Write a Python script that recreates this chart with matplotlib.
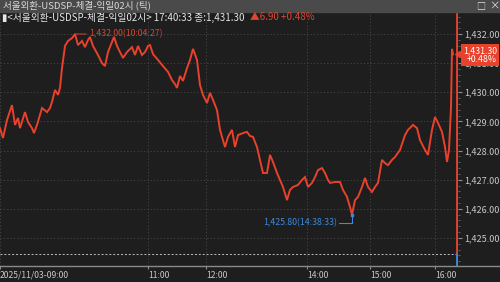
import numpy as np
import matplotlib
matplotlib.use('Agg')
import matplotlib.pyplot as plt
from matplotlib.patches import Rectangle
from matplotlib.lines import Line2D
from matplotlib.ticker import MultipleLocator, FuncFormatter
import matplotlib.transforms as mtransforms

plt.rcParams['font.family'] = ['Noto Sans CJK KR', 'DejaVu Sans']

# tick sequence (position on the tick chart) and traded price
tick_seq = [0, 3, 7, 12, 15, 18, 20, 25, 28, 32,
            34, 37, 42, 47, 50, 52, 55, 58, 60, 62,
            65, 68, 72, 75, 78, 82, 85, 88, 90, 93,
            98, 102, 105, 108, 112, 114, 117, 120, 123, 127,
            132, 135, 138, 142, 145, 148, 150, 153, 158, 163,
            168, 172, 175, 177, 180, 183, 187, 190, 193, 197,
            200, 203, 207, 210, 213, 217, 220, 225, 228, 232,
            235, 238, 243, 247, 250, 253, 257, 260, 263, 267,
            270, 273, 277, 280, 283, 287, 290, 293, 298, 302,
            305, 308, 312, 315, 318, 322, 325, 328, 330, 335,
            340, 343, 347, 350, 352, 355, 358, 362, 365, 368,
            372, 375, 378, 382, 385, 388, 392, 395, 400, 405,
            408, 413, 417, 420, 425, 428, 432, 435, 438, 442,
            445, 447, 449, 451, 452, 453]
price = [1428.77, 1428.43, 1429.05, 1429.56, 1428.88, 1429.12, 1428.77, 1429.32, 1428.98, 1428.77,
         1428.60, 1428.88, 1429.46, 1429.32, 1429.46, 1429.67, 1430.08, 1429.91, 1430.15, 1430.83,
         1431.59, 1431.76, 1431.86, 1432.00, 1431.62, 1431.76, 1431.55, 1431.79, 1431.90, 1431.59,
         1431.28, 1431.00, 1430.90, 1431.38, 1431.73, 1431.90, 1431.59, 1431.38, 1431.18, 1431.38,
         1431.55, 1431.28, 1431.59, 1431.28, 1431.38, 1431.59, 1431.62, 1431.31, 1431.11, 1430.90,
         1430.70, 1430.42, 1430.28, 1430.15, 1430.56, 1430.39, 1430.83, 1431.11, 1431.49, 1431.11,
         1430.25, 1429.91, 1429.63, 1429.98, 1429.74, 1429.39, 1428.71, 1428.12, 1428.47, 1428.71,
         1428.12, 1428.53, 1428.60, 1428.64, 1428.50, 1428.47, 1428.12, 1427.68, 1427.23, 1427.23,
         1427.85, 1427.61, 1427.23, 1426.99, 1426.75, 1426.30, 1426.65, 1426.75, 1426.82, 1426.99,
         1427.09, 1426.75, 1426.89, 1427.09, 1427.33, 1427.40, 1427.23, 1426.99, 1426.89, 1426.92,
         1426.92, 1426.65, 1426.41, 1426.06, 1425.80, 1426.30, 1426.41, 1426.75, 1427.06, 1426.75,
         1426.58, 1426.75, 1426.89, 1427.68, 1427.57, 1427.50, 1427.68, 1427.78, 1428.02, 1428.53,
         1428.71, 1428.88, 1428.77, 1428.36, 1428.02, 1427.85, 1428.71, 1429.15, 1428.95, 1428.64,
         1428.12, 1427.61, 1428.02, 1429.49, 1431.49, 1431.30]

time_pos = [0, 148, 206, 307, 370, 435]
time_labels = ['2025/11/03-09:00', '11:00', '12:00', '14:00', '15:00', '16:00']
price_ticks = [1425, 1426, 1427, 1428, 1429, 1430, 1431, 1432]

title = '서울외환-USDSP-체결-익일02시 (틱)'
header = '▮<서울외환-USDSP-체결-익일02시> 17:40:33 종:1,431.30'
change = '▲6.90 +0.48%'
max_time = '10:04:27'
min_time = '14:38:33'
last_change = '+0.48%'

BG = '#1e1e1e'
RED = '#e8412c'
BLUE = '#3a8be0'
TXT = '#c8c8c8'

W, H = 500, 282
fig = plt.figure(figsize=(W / 100, H / 100), dpi=100, facecolor=BG)

# title bar
fig.patches.append(Rectangle((0, 1 - 12 / H), 1, 12 / H, transform=fig.transFigure,
                             color='#4a4a4a', zorder=0))
fig.text(3 / W, 1 - 5.5 / H, title, color='#d8d8d8', fontsize=6.9, va='center')
fig.text(481 / W, 1 - 5.5 / H, '□', color='#e0e0e0', fontsize=6.5, va='center', ha='center')
fig.text(494 / W, 1 - 5.5 / H, '×', color='#e0e0e0', fontsize=7.5, va='center', ha='center')

ax = fig.add_axes([0, 16 / H, 458 / W, 253 / H])
ax.set_facecolor(BG)
ax.set_xlim(0, 458)
ax.set_ylim(1432 - 232 / 29.14, 1432 + 21 / 29.14)
for s in ax.spines.values():
    s.set_visible(False)

ax.plot(tick_seq, price, color=RED, lw=1.4, zorder=3, solid_joinstyle='miter')

ax.grid(True, color='#484848', linestyle=(0, (1.5, 2.5)), linewidth=0.6)

ax.yaxis.tick_right()
ax.set_yticks(price_ticks)
ax.yaxis.set_major_formatter(FuncFormatter(lambda v, p: '{:,.2f}'.format(v)))
ax.yaxis.set_minor_locator(MultipleLocator(0.2))
ax.tick_params(axis='y', which='major', colors='#8c8c8c', labelcolor=TXT,
               labelsize=6.5, length=3, pad=1.5)
ax.tick_params(axis='y', which='minor', colors='#6c6c6c', length=1.5)

ax.set_xticks(time_pos, time_labels)
for lab in ax.get_xticklabels():
    lab.set_ha('left')
ax.tick_params(axis='x', colors='#8c8c8c', labelcolor=TXT, labelsize=6.2,
               length=2, pad=1.5)

# x axis base line across the whole window
fig.add_artist(Line2D([0, 1], [16 / H, 16 / H], color='#8a8a8a', lw=1))

# volume separator + current cursor
ax.plot([0, 0.995], [0.047, 0.047], transform=ax.transAxes, color='#bdbdbd',
        lw=0.7, linestyle=(0, (2, 2)), zorder=2)
ax.axvline(457, ymin=0.047, ymax=1, color=RED, lw=2, zorder=4)
ax.axvline(457, ymin=0, ymax=0.047, color=BLUE, lw=2, zorder=4)

# high / low annotations
i_max = int(np.argmax(price))
i_min = int(np.argmin(price))
ax.annotate('{:,.2f}({})'.format(price[i_max], max_time),
            xy=(tick_seq[i_max], price[i_max]), xytext=(10, 0), textcoords='offset points',
            color='#d8452f', fontsize=6.3, va='center', ha='left',
            arrowprops=dict(arrowstyle='-', color='#d8452f', lw=0.7,
                            shrinkA=0, shrinkB=0))
ax.plot(tick_seq[i_min], price[i_min], marker='s', ms=2, color=BLUE, zorder=5)
ax.annotate('{:,.2f}({})'.format(price[i_min], min_time),
            xy=(tick_seq[i_min], price[i_min]), xytext=(-11, -6), textcoords='offset points',
            color=BLUE, fontsize=6.3, va='center', ha='right',
            arrowprops=dict(arrowstyle='-', color=BLUE, lw=0.8, shrinkA=0, shrinkB=0,
                            connectionstyle='angle,angleA=0,angleB=90,rad=0'))

# last price tag (covers the 1,431.00 label as in the terminal)
trans = mtransforms.blended_transform_factory(ax.transAxes, ax.transData)
ax.plot(1.0, price[-1], marker='<', ms=5, color=RED, transform=trans,
        clip_on=False, zorder=6)
ax.annotate('{:,.2f}\n{}'.format(price[-1], last_change), xy=(1.0, price[-1]),
            xycoords=trans, xytext=(3.5, -0.5), textcoords='offset points',
            color='white', fontsize=6.3, ha='left', va='center', linespacing=0.95,
            multialignment='right', annotation_clip=False, zorder=7,
            bbox=dict(boxstyle='square,pad=0.22', fc=RED, ec='none'))

# info header inside the chart
fig.text(2 / W, 1 - 17.5 / H, header, color='#e6e6e6', fontsize=7, va='center')
fig.text(250 / W, 1 - 17.5 / H, change, color='#e0452f', fontsize=7, va='center')

fig.savefig('out.png', dpi=100, facecolor=BG)
